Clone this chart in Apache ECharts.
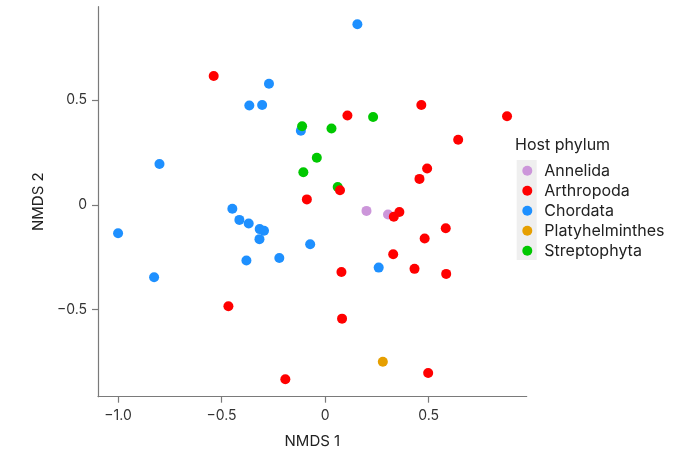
<!DOCTYPE html>
<html>
<head>
<meta charset="utf-8">
<script src="https://cdn.jsdelivr.net/npm/echarts@6/dist/echarts.min.js"></script>
<style>html,body{margin:0;padding:0;background:#fff}#c{width:692px;height:450px}</style>
</head>
<body>
<div id="c"></div>
<script>
// Data (NMDS 1, NMDS 2) per host phylum
const phyla = ["Annelida", "Arthropoda", "Chordata", "Platyhelminthes", "Streptophyta"];
const annelida = [[0.200, -0.029], [0.304, -0.046]];
const arthropoda = [
  [-0.538, 0.616], [0.465, 0.477], [0.108, 0.427], [0.879, 0.423], [0.643, 0.311],
  [0.493, 0.174], [0.456, 0.124], [0.072, 0.070], [-0.088, 0.026], [0.359, -0.034],
  [0.332, -0.057], [0.583, -0.112], [0.481, -0.161], [0.329, -0.236], [0.079, -0.321],
  [0.432, -0.306], [0.585, -0.330], [0.082, -0.544], [0.498, -0.804], [-0.467, -0.485],
  [-0.192, -0.834]
];
const chordata = [
  [0.156, 0.863], [-0.271, 0.579], [-0.366, 0.475], [-0.304, 0.477], [-0.117, 0.354],
  [-0.800, 0.195], [-0.448, -0.019], [-0.414, -0.072], [-0.369, -0.089], [-0.316, -0.116],
  [-0.295, -0.124], [-0.317, -0.164], [-1.000, -0.136], [-0.072, -0.188], [-0.380, -0.266],
  [-0.221, -0.254], [-0.826, -0.346], [0.259, -0.300]
];
const platyhelminthes = [[0.279, -0.750]];
const streptophyta = [[-0.111, 0.376], [0.232, 0.420], [0.031, 0.365], [-0.040, 0.225], [-0.105, 0.156], [0.061, 0.085]];
const xTicks = [-1.0, -0.5, 0, 0.5];
const yTicks = [-0.5, 0, 0.5];
const colors = {Annelida: "#CC96DA", Arthropoda: "#FF0000", Chordata: "#1E90FF", Platyhelminthes: "#E69F00", Streptophyta: "#00C800"};

const fmt = v => {
  if (Math.abs(v) < 1e-9) return "0";
  const s = Math.abs(v).toFixed(1);
  return (v < 0 ? "\u2212" : "") + s;
};
const font = "Inter, 'Noto Sans', sans-serif";
function mk(name, data, z) {
  return {
    name: name, type: "scatter", data: data, symbolSize: 10, z: z,
    itemStyle: {color: colors[name], opacity: 1},
    emphasis: {disabled: true}
  };
}
const chart = echarts.init(document.getElementById("c"), null, {renderer: "canvas"});
chart.setOption({
  animation: false,
  backgroundColor: "#fff",
  grid: {left: 98, top: 6.7, right: 165.3, bottom: 53.3, containLabel: false, outerBoundsMode: "none"},
  xAxis: {
    type: "value", min: -1.097, max: 0.974,
    name: "NMDS 1", nameLocation: "middle", nameGap: 37,
    nameTextStyle: {fontSize: 15, color: "#222", fontFamily: font},
    splitLine: {show: false},
    axisLine: {show: true, onZero: false, lineStyle: {color: "#7a7a7a", width: 1.2}},
    axisTick: {show: true, length: 6, customValues: xTicks, lineStyle: {color: "#7a7a7a", width: 1.2}},
    axisLabel: {customValues: xTicks, formatter: fmt, fontSize: 14, color: "#333", margin: 12, fontFamily: font}
  },
  yAxis: {
    type: "value", min: -0.917, max: 0.947,
    name: "NMDS 2", nameLocation: "middle", nameGap: 52, nameRotate: 90,
    nameTextStyle: {fontSize: 15, color: "#222", fontFamily: font},
    splitLine: {show: false},
    axisLine: {show: true, onZero: false, lineStyle: {color: "#7a7a7a", width: 1.2}},
    axisTick: {show: true, length: 6, customValues: yTicks, lineStyle: {color: "#7a7a7a", width: 1.2}},
    axisLabel: {customValues: yTicks, formatter: fmt, fontSize: 14, color: "#333", margin: 11, fontFamily: font}
  },
  title: {
    text: "Host phylum", left: 515, top: 137, padding: 0,
    textStyle: {fontSize: 16, fontWeight: "normal", color: "#222", fontFamily: font}
  },
  graphic: [{
    type: "rect", z: 0, silent: true,
    shape: {x: 516.7, y: 160, width: 20, height: 100},
    style: {fill: "#EFEFEF"}
  }],
  legend: {
    data: phyla, orient: "vertical", left: 522.3, top: 160.7,
    itemWidth: 10, itemHeight: 10, itemGap: 0, icon: "circle", padding: 0,
    selectedMode: false, z: 5,
    textStyle: {fontSize: 16, color: "#222", lineHeight: 20, fontFamily: font, padding: [0, 0, 0, 7]}
  },
  series: [
    mk("Annelida", annelida, 2),
    mk("Chordata", chordata, 3),
    mk("Streptophyta", streptophyta, 4),
    mk("Arthropoda", arthropoda, 5),
    mk("Platyhelminthes", platyhelminthes, 6)
  ]
});
</script>
</body>
</html>
